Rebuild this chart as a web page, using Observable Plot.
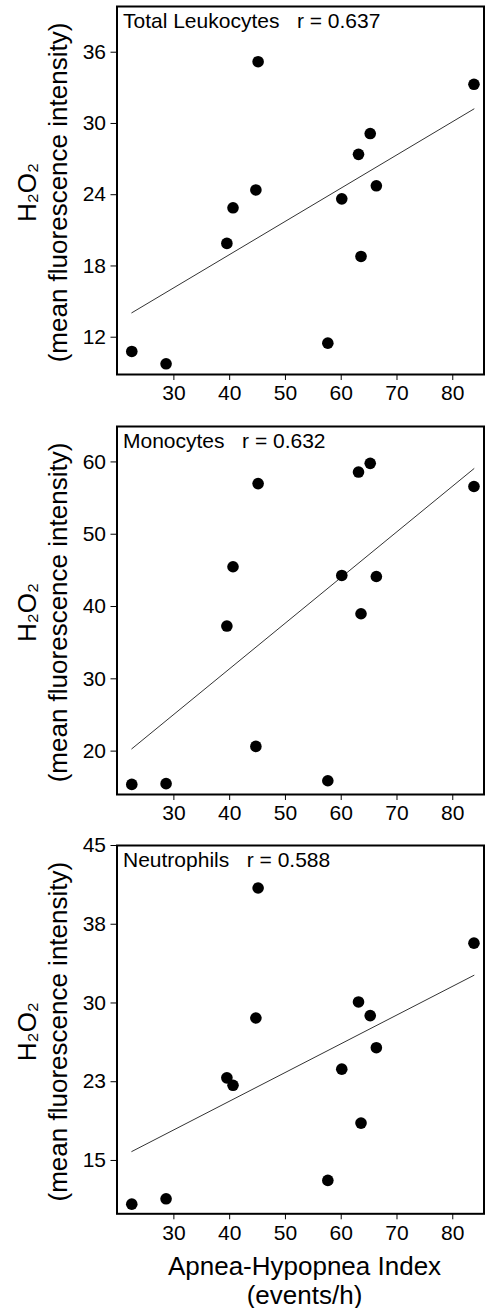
<!DOCTYPE html>
<html>
<head>
<meta charset="utf-8">
<script src="https://cdn.jsdelivr.net/npm/d3@7"></script>
<script src="https://cdn.jsdelivr.net/npm/@observablehq/plot@0.6"></script>
<style>
  html, body { margin: 0; padding: 0; background: white; }
  #chart svg { display: block; }
</style>
</head>
<body>
<div id="chart"></div>
<script>
// Apnea-Hypopnea Index (events/h) of each subject
const ahi = [22.45, 28.6, 39.5, 40.6, 44.7, 45.1, 57.6, 60.1, 63.1, 63.55, 65.2, 66.3, 83.8];
// H2O2 mean fluorescence intensity per cell type
const leukocytes = [10.8, 9.76, 19.9, 22.9, 24.4, 35.2, 11.5, 23.65, 27.4, 18.8, 29.15, 24.75, 33.3];
const monocytes  = [15.4, 15.5, 37.3, 45.5, 20.65, 57.0, 15.9, 44.3, 58.6, 39.0, 59.8, 44.15, 56.6];
const neutrophils = [10.84, 11.35, 22.87, 22.16, 28.57, 40.95, 13.1, 23.7, 30.1, 18.56, 28.8, 25.74, 35.7];

const panelNames = ["Total Leukocytes", "Monocytes", "Neutrophils"];
const panelR = ["0.637", "0.632", "0.588"];

const xTicks = [30, 40, 50, 60, 70, 80];
const xDomain = [19.8, 85.6];
const yTicks1 = [12, 18, 24, 30, 36];
const yTicks2 = [20, 30, 40, 50, 60];
const yTicks3 = [15, 22.5, 30, 37.5, 45];
const yTickLabels3 = ["15", "23", "30", "38", "45"];
const yDomain1 = [8.86, 39.85];
const yDomain2 = [14.0, 64.9];
const yDomain3 = [9.92, 45];

const yLabel = "H\u2082O\u2082\n(mean fluorescence intensity)";
const xLabel = "Apnea-Hypopnea Index\n(events/h)";

const FONT = "'Liberation Sans', Arial, Helvetica, sans-serif";

function panel({values, name, r, yDomain, yTicks, yFormat, height, marginTop, marginBottom, withXLabel}) {
  const data = ahi.map((a, i) => ({ahi: a, v: values[i]}));
  const marks = [
    Plot.frame({stroke: "black", strokeWidth: 2}),
    Plot.linearRegressionY(data, {x: "ahi", y: "v", ci: 0, stroke: "#333", strokeWidth: 1}),
    Plot.dot(data, {x: "ahi", y: "v", r: 5.8, fill: "black", stroke: "none"}),
    Plot.text([`${name}\u00a0\u00a0\u00a0r = ${r}`], {
      frameAnchor: "top-left", textAnchor: "start", lineAnchor: "top",
      dx: 6, dy: 7, fontSize: 21, fill: "black"
    }),
    Plot.text([yLabel], {
      frameAnchor: "left", rotate: -90, textAnchor: "middle", lineAnchor: "middle",
      dx: -75.5, dy: 2, fontSize: 26, lineHeight: 1.2, fill: "black"
    })
  ];
  if (withXLabel) {
    marks.push(Plot.text([xLabel], {
      frameAnchor: "bottom", textAnchor: "middle", lineAnchor: "top",
      dx: 4, dy: 40, fontSize: 26, lineHeight: 1.13, fill: "black"
    }));
  }
  return Plot.plot({
    width: 485,
    height,
    marginLeft: 116.5,
    marginRight: 1.5,
    marginTop,
    marginBottom,
    style: {fontFamily: FONT, fontSize: "21px", color: "black", background: "white", overflow: "visible"},
    x: {domain: xDomain, ticks: xTicks, tickSize: 6, tickPadding: 5, label: null},
    y: {domain: yDomain, ticks: yTicks, tickFormat: yFormat, tickSize: 6, tickPadding: 5, label: null},
    marks
  });
}

const chart = document.getElementById("chart");
chart.append(panel({
  values: leukocytes, name: panelNames[0], r: panelR[0],
  yDomain: yDomain1, yTicks: yTicks1, yFormat: d => String(d),
  height: 420, marginTop: 6, marginBottom: 46
}));
chart.append(panel({
  values: monocytes, name: panelNames[1], r: panelR[1],
  yDomain: yDomain2, yTicks: yTicks2, yFormat: d => String(d),
  height: 420, marginTop: 6, marginBottom: 46
}));
chart.append(panel({
  values: neutrophils, name: panelNames[2], r: panelR[2],
  yDomain: yDomain3, yTicks: yTicks3, yFormat: d => yTickLabels3[yTicks3.indexOf(d)],
  height: 468, marginTop: 5, marginBottom: 94.7, withXLabel: true
}));
</script>
</body>
</html>
